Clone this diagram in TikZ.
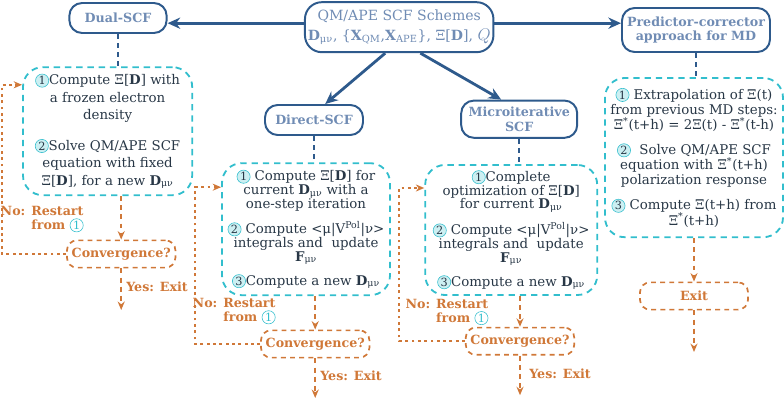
\documentclass[tikz,border=0pt]{standalone}
\usepackage{fontspec}
\setmainfont{DejaVu Serif}
\usetikzlibrary{arrows.meta, calc}

\definecolor{sdblue}{RGB}{46,90,140}
\definecolor{stitle}{RGB}{112,140,180}
\definecolor{stext}{RGB}{40,55,70}
\definecolor{scyan}{RGB}{50,190,205}
\definecolor{sorange}{RGB}{208,120,56}

\newcommand{\cnum}[1]{\tikz[baseline=(cn.base)]\node[circle, draw=scyan, fill=scyan!25, text=stext, inner sep=0pt, minimum size=3.3mm, font=\fontsize{8}{8}\selectfont](cn){#1};}
\newcommand{\cnumo}[1]{\tikz[baseline=(cn.base)]\node[circle, draw=scyan, text=scyan, inner sep=0pt, minimum size=3.3mm, font=\fontsize{8}{8}\selectfont\mdseries](cn){#1};}
\newcommand{\Dmn}{\textbf{D}\textsubscript{μν}}
\newcommand{\Fmn}{\textbf{F}\textsubscript{μν}}
\newcommand{\Xis}{Ξ\textsuperscript{*}}

\begin{document}
\begin{tikzpicture}[font=\fontsize{9.5}{11}\selectfont, text=stext,
  title/.style={draw=sdblue, line width=1.4pt, rounded corners=9pt, text=stitle, font=\fontsize{9}{10.5}\selectfont\bfseries, align=center, inner sep=2pt},
  stepbox/.style={draw=scyan, line width=1.3pt, dash pattern=on 4.5pt off 3.5pt, rounded corners=14pt, align=center, inner sep=2pt},
  check/.style={draw=sorange, line width=1.2pt, dash pattern=on 3.5pt off 3pt, rounded corners=7pt, text=sorange, font=\fontsize{9}{10}\selectfont\bfseries, minimum width=2.7cm, minimum height=0.68cm},
  main/.style={draw=sdblue, line width=2pt, -{Stealth[length=9pt, width=8pt]}},
  link/.style={draw=sdblue, line width=1.2pt, dash pattern=on 3.5pt off 3pt},
  flow/.style={draw=sorange, line width=1.2pt, dash pattern=on 3.5pt off 3pt, -{Stealth[length=6pt, width=5pt]}},
  back/.style={draw=sorange, line width=1.2pt, dash pattern=on 2pt off 2.5pt, -{Stealth[length=6pt, width=5pt]}},
  note/.style={text=sorange, font=\fontsize{9}{10}\selectfont\bfseries, align=right, inner sep=1pt}]

\useasboundingbox (0,0) rectangle (19.6,-10.025);

% =================================================================================
% the four schemes around the common QM/APE node
% =================================================================================
\node[title, font=\fontsize{10}{14}\selectfont, rounded corners=12pt,
      minimum width=4.45cm, minimum height=1.25cm] (top) at (9.98,-0.68)
  {QM/APE SCF Schemes\\
   \Dmn, \{\textbf{X}\textsubscript{QM},\textbf{X}\textsubscript{APE}\}, Ξ[\textbf{D}], {\large$Q$}};

\node[title, minimum width=2.43cm, minimum height=0.75cm] (dual)   at (2.95,-0.45)  {Dual-SCF};
\node[title, minimum width=3.7cm,  minimum height=1.1cm]  (pred)   at (17.4,-0.75)  {Predictor-corrector\\approach for MD};
\node[title, minimum width=2.45cm, minimum height=0.75cm] (direct) at (7.85,-3.0)   {Direct-SCF};
\node[title, minimum width=2.9cm,  minimum height=0.93cm] (micro)  at (12.98,-2.98) {Microiterative\\SCF};

\draw[main] ([yshift=0.1cm]top.west) -- ([yshift=0.1cm]top.west -| dual.east);
\draw[main] ([yshift=0.1cm]top.east) -- ([yshift=0.1cm]top.east -| pred.west);
\draw[main] ([xshift=-0.35cm]top.south) -- ([xshift=0.28cm]direct.north);
\draw[main] ([xshift=0.53cm]top.south) -- ([xshift=-0.45cm]micro.north);

% =================================================================================
% the steps of each scheme
% =================================================================================
\node[stepbox, minimum width=4.23cm, minimum height=3.2cm, font=\fontsize{9.5}{12.5}\selectfont] (dualbox) at (2.69,-3.28)
  {\cnum{1}Compute Ξ[\textbf{D}] with\\ a frozen electron\\ density\\[9pt]
   \cnum{2}Solve QM/APE SCF\\ equation with fixed\\ Ξ[\textbf{D}], for a new \Dmn};

\node[stepbox, minimum width=4.2cm, minimum height=3.3cm, font=\fontsize{9.5}{9.8}\selectfont] (directbox) at (7.65,-5.73)
  {\cnum{1} Compute Ξ[\textbf{D}] for\\ current \Dmn\ with a\\ one-step iteration\\[6pt]
   \cnum{2} Compute <μ|V\textsuperscript{Pol}|ν>\\ integrals and\ \ update\\ \Fmn\\[6pt]
   \cnum{3}Compute a new \Dmn};

\node[stepbox, minimum width=4.3cm, minimum height=3.25cm, font=\fontsize{9.5}{9.8}\selectfont] (microbox) at (12.78,-5.75)
  {\cnum{1}Complete\\ optimization of Ξ[\textbf{D}]\\ for current \Dmn\\[6pt]
   \cnum{2} Compute <μ|V\textsuperscript{Pol}|ν>\\ integrals and\ \ update\\ \Fmn\\[6pt]
   \cnum{3}Compute a new \Dmn};

\node[stepbox, minimum width=4.45cm, minimum height=3.98cm, font=\fontsize{9.5}{10.8}\selectfont] (predbox) at (17.35,-3.94)
  {\cnum{1} Extrapolation of Ξ(t)\\ from previous MD steps:\\ \Xis(t+h) = 2Ξ(t) - \Xis(t-h)\\[7pt]
   \cnum{2}\ \ Solve QM/APE SCF\\ equation with \Xis(t+h)\\ polarization response\\[7pt]
   \cnum{3} Compute Ξ(t+h) from\\ \Xis(t+h)};

\draw[link] (dual.south)   -- (dual.south |- dualbox.north);
\draw[link] (direct.south) -- (direct.south |- directbox.north);
\draw[link] (micro.south)  -- (micro.south |- microbox.north);
\draw[link] (pred.south)   -- (pred.south |- predbox.north);

% =================================================================================
% convergence checks and restart loops
% =================================================================================
\node[check] (dconv) at (3.03,-6.35) {Convergence?};
\node[check] (rconv) at (7.88,-8.6)  {Convergence?};
\node[check] (mconv) at (13.0,-8.53) {Convergence?};
\node[check] (pexit) at (17.35,-7.4) {Exit};

\coordinate (dend) at (3.03,-7.75);
\coordinate (rend) at (7.88,-9.95);
\coordinate (mend) at (13.0,-9.88);
\coordinate (pend) at (17.35,-8.8);

\draw[flow] (dconv.north |- dualbox.south)   -- (dconv.north);
\draw[flow] (rconv.north |- directbox.south) -- (rconv.north);
\draw[flow] (mconv.north |- microbox.south)  -- (mconv.north);
\draw[flow] (pexit.north |- predbox.south)   -- (pexit.north);

\draw[flow] (dconv.south) -- (dend) node[pos=0.45, right, note, xshift=2pt] {Yes: Exit};
\draw[flow] (rconv.south) -- (rend) node[pos=0.45, right, note, xshift=2pt] {Yes: Exit};
\draw[flow] (mconv.south) -- (mend) node[pos=0.45, right, note, xshift=5pt] {Yes: Exit};
\draw[flow] (pexit.south) -- (pend);

\coordinate (dback) at (0.05,-2.12);
\coordinate (rback) at (4.88,-4.68);
\coordinate (mback) at (9.98,-4.7);

\draw[back] (dconv.west) -| (dback) -- (dback -| dualbox.west);
\draw[back] (rconv.west) -| (rback) -- (rback -| directbox.west);
\draw[back] (mconv.west) -| (mback) -- (mback -| microbox.west);

\node[note, anchor=east] (dno) at (2.13,-5.48) {No: Restart\\from \cnumo{1}};
\node[note, anchor=east] (rno) at (6.93,-7.78) {No: Restart\\from \cnumo{1}};
\node[note, anchor=east] (mno) at (12.25,-7.8) {No: Restart\\from \cnumo{1}};

\end{tikzpicture}
\end{document}
